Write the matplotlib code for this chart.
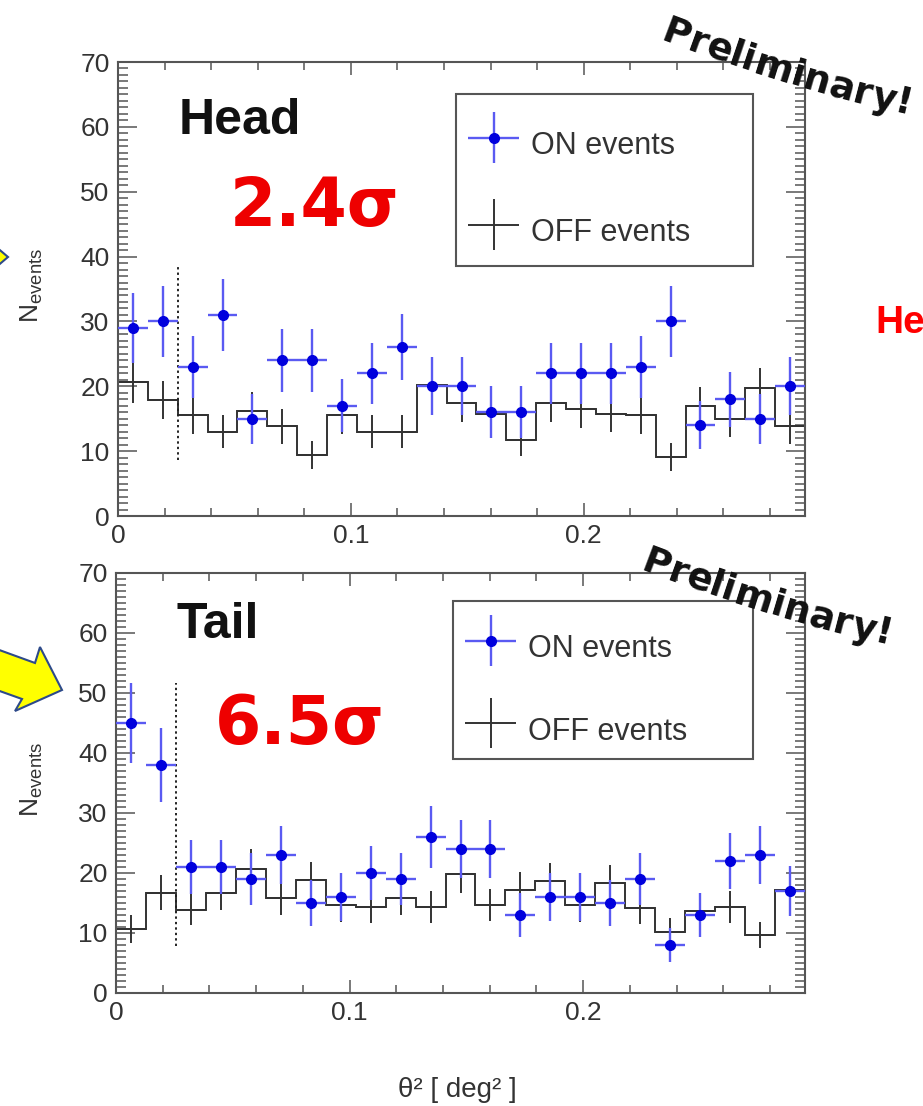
import numpy as np
import matplotlib
matplotlib.use("Agg")
import matplotlib.pyplot as plt
from matplotlib.patches import Polygon, Rectangle
from matplotlib.container import ErrorbarContainer
from matplotlib.legend_handler import HandlerErrorbar
from matplotlib.ticker import MultipleLocator, FuncFormatter
from matplotlib.font_manager import FontProperties
from matplotlib.textpath import text_to_path

plt.rcParams["font.family"] = ["Liberation Sans", "DejaVu Sans"]
plt.rcParams["mathtext.default"] = "regular"

# ---------------------------------------------------------------- data
n_bins = 23
theta2_max = 0.295          # deg^2
theta2_cut = 2 * theta2_max / n_bins
off_norm = 0.5              # ON/OFF exposure ratio

head_on = [29, 30, 23, 31, 15, 24, 24, 17, 22, 26, 20, 20,
           16, 16, 22, 22, 22, 23, 30, 14, 18, 15, 20]
head_off = [20.7, 17.9, 15.5, 13.0, 16.2, 13.8, 9.4, 15.5, 13.0, 13.0, 20.2, 17.4,
            15.8, 11.7, 17.5, 16.5, 15.8, 15.5, 9.1, 17.0, 14.9, 19.7, 13.8]
tail_on = [45, 38, 21, 21, 19, 23, 15, 16, 20, 19, 26, 24,
           24, 13, 16, 16, 15, 19, 8, 13, 22, 23, 17]
tail_off = [10.7, 16.7, 13.9, 16.7, 20.7, 15.8, 18.8, 14.6, 14.3, 15.8, 14.3, 19.8,
            14.7, 17.2, 18.6, 14.6, 18.3, 14.1, 10.2, 13.6, 14.4, 9.7, 17.1]

panel_names = ["Head", "Tail"]
significance = ["2.4σ", "6.5σ"]
cut_span = [(8.6, 38.5), (7.8, 51.7)]

# ---------------------------------------------------------------- figure
W, H = 923, 1106
fig = plt.figure(figsize=(W / 100, H / 100), dpi=100)


def px(x, y):
    """pixel position (from top-left) -> figure fraction"""
    return x / W, 1 - y / H


frame_col = "#555555"
text_col = "#333333"
on_col = "#0000dd"
on_err_col = "#5a5af2"
off_col = "#333333"

# axes boxes in pixels: left, top, right, bottom
boxes = [(118, 62, 805, 516), (116, 573, 805, 993)]
# legend frame (left, top, right, bottom) and first-row centre / row pitch
legend_frames = [(456, 94, 753, 266), (453, 601, 753, 759)]
legend_rows = [(138, 1.3), (641, 1.15)]
name_pos = [(240, 121), (218, 625)]
sig_pos = [(315, 207), (300, 725)]
ylabel_pos = [(32, 285), (32, 779)]

edges = np.linspace(0, theta2_max, n_bins + 1)
centers = 0.5 * (edges[:-1] + edges[1:])
half_w = 0.5 * np.diff(edges)

datasets = [(head_on, head_off), (tail_on, tail_off)]

for i, (on, off) in enumerate(datasets):
    l, t, r, b = boxes[i]
    ax = fig.add_axes([l / W, 1 - b / H, (r - l) / W, (b - t) / H])
    on = np.asarray(on, float)
    off = np.asarray(off, float)

    ax.stairs(off, edges, baseline=None, color=off_col, lw=1.4)
    h_off = ax.errorbar(centers, off, xerr=half_w, yerr=np.sqrt(off * off_norm),
                        fmt="none", ecolor=off_col, elinewidth=1.4,
                        label="OFF events")
    h_on = ax.errorbar(centers, on, xerr=half_w, yerr=np.sqrt(on),
                       fmt="o", color=on_col, ms=7, ecolor=on_err_col,
                       elinewidth=1.7, label="ON events", zorder=3)

    lo, hi = cut_span[i]
    ax.plot([theta2_cut, theta2_cut], [lo, hi], ls=(0, (1.2, 1.6)),
            color="#222222", lw=1.4)

    ax.set_xlim(0, theta2_max)
    ax.set_ylim(0, 70)
    ax.xaxis.set_major_locator(MultipleLocator(0.1))
    ax.xaxis.set_minor_locator(MultipleLocator(0.02))
    ax.yaxis.set_major_locator(MultipleLocator(10))
    ax.yaxis.set_minor_locator(MultipleLocator(1))
    ax.xaxis.set_major_formatter(FuncFormatter(lambda v, p: "0" if abs(v) < 1e-9 else f"{v:.1f}"))
    ax.tick_params(which="both", direction="in", top=True, right=True,
                   color=frame_col, width=1.1, labelcolor=text_col,
                   labelsize=19)
    ax.tick_params(axis="y", which="major", length=14, pad=6)
    ax.tick_params(axis="y", which="minor", length=7)
    ax.tick_params(axis="x", which="major", length=9.5, pad=6)
    ax.tick_params(axis="x", which="minor", length=6)
    for sp in ax.spines.values():
        sp.set_color(frame_col)
        sp.set_linewidth(1.5)

    # legend: white box with a grey border, entries placed inside it
    fx0, fy0, fx1, fy1 = legend_frames[i]
    to_ax = lambda x, y: ((x - l) / (r - l), (b - y) / (b - t))
    bx, by = to_ax(fx0, fy1)
    bw = (fx1 - fx0) / (r - l)
    bh = (fy1 - fy0) / (b - t)
    ax.add_patch(Rectangle((bx, by), bw, bh, transform=ax.transAxes,
                           facecolor="white", edgecolor=frame_col, lw=1.5,
                           zorder=4.5, clip_on=False))
    row0, pitch = legend_rows[i]
    leg = ax.legend(handles=[h_on, h_off], loc="upper left",
                    bbox_to_anchor=to_ax(fx0 + 12, row0 - 17),
                    fontsize=22, frameon=False, borderpad=0,
                    handlelength=1.67, handleheight=2.0,
                    handletextpad=0.4, labelspacing=pitch,
                    borderaxespad=0,
                    handler_map={ErrorbarContainer: HandlerErrorbar(xerr_size=0.83)})
    for txt in leg.get_texts():
        txt.set_color(text_col)

    # panel annotations
    nx, ny = name_pos[i]
    fig.text(*px(nx, ny), panel_names[i], fontsize=36, fontweight="bold",
             color="#111111", ha="center", va="center")
    sx, sy = sig_pos[i]
    fig.text(*px(sx, sy), significance[i], fontsize=48, fontweight="bold",
             color="#ee0000", ha="center", va="center",
             family=["DejaVu Sans"])
    yx, yy = ylabel_pos[i]
    fig.text(*px(yx, yy), r"$N_{events}$", fontsize=19, color=text_col,
             rotation=90, ha="center", va="center")

fig.text(*px(457, 1090), "θ² [ deg² ]", fontsize=20, color=text_col,
         ha="center", va="center")


# ---------------------------------------------------------------- curved stamp
def arc_text(s, start, ang0, ang1, size):
    """Write s letter by letter along a circular arc whose tangent turns
    from ang0 to ang1 degrees; start is the left baseline point in pixels."""
    prop = FontProperties(family="DejaVu Sans", weight="bold", size=size)
    scale = fig.dpi / 72.0
    widths = [text_to_path.get_text_width_height_descent(s[:k + 1], prop, False)[0] * scale
              for k in range(len(s))]
    own = [text_to_path.get_text_width_height_descent(c, prop, False)[0] * scale for c in s]
    total = widths[-1]
    a0, a1 = np.radians(ang0), np.radians(ang1)
    k = (a1 - a0) / total
    sx, sy = start[0], H - start[1]
    for j, ch in enumerate(s):
        tc = widths[j] - own[j] / 2
        a = a0 + k * tc
        x = sx + (np.sin(a) - np.sin(a0)) / k
        y = sy - (np.cos(a) - np.cos(a0)) / k
        fig.text(x / W, y / H, ch, fontproperties=prop, color="#111111",
                 rotation=np.degrees(a), rotation_mode="anchor",
                 ha="center", va="baseline")


arc_text("Preliminary!", (660, 40), -21, -13, 27)
arc_text("Preliminary!", (640, 570), -21, -13, 27)

# ---------------------------------------------------------------- slide arrows
arrow_face = "#ffff00"
arrow_edge = "#2d4a8a"
big_arrow = [(-20, 643), (35, 663), (40, 647), (62, 690), (15, 711), (22, 699), (-20, 684)]
small_arrow = [(-12, 240), (8, 257), (-12, 274)]
for poly in (big_arrow, small_arrow):
    fig.add_artist(Polygon([px(x, y) for x, y in poly], closed=True,
                           facecolor=arrow_face, edgecolor=arrow_edge, lw=1.5,
                           transform=fig.transFigure))

fig.text(*px(875, 333), "He", fontsize=28, fontweight="bold", color="#ff0000",
         ha="left", va="baseline")

fig.savefig("out.png", dpi=100)
